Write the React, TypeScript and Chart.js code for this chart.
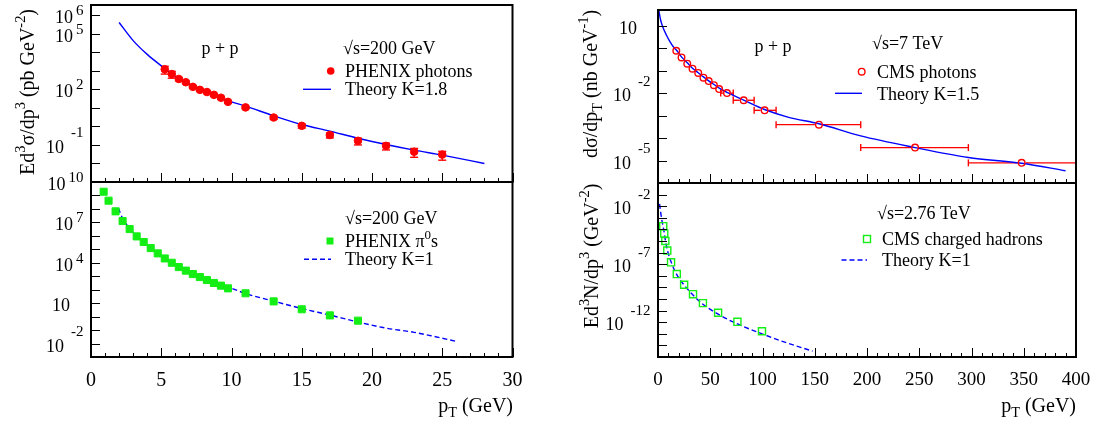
import { useEffect, useRef } from "react";
import { Chart, registerables } from "chart.js";

Chart.register(...registerables);

const W = 1097;
const H = 426;
const SERIF = '"Liberation Serif", "Times New Roman", "DejaVu Serif", serif';

// ---------------- data ----------------
// top-left: PHENIX direct photons, sqrt(s)=200 GeV
const phenixGammaPt = [5.25, 5.75, 6.25, 6.75, 7.25, 7.75, 8.25, 8.75, 9.25, 9.75, 11, 13, 15, 17, 19, 21, 23, 25];
const phenixGammaY = [1.2e3, 6.6e2, 3.6e2, 2.4e2, 1.35e2, 93, 71, 50, 35, 21, 10.5, 3.0, 1.07, 0.34, 0.166, 0.089, 0.043, 0.03];
const phenixGammaErr = [0.45, 0.4, 0.2, 0.15, 0.15, 0.15, 0.15, 0.15, 0.15, 0.15, 0.15, 0.2, 0.25, 0.3, 0.4, 0.4, 0.5, 0.5];
const gammaTheory200Pt = [2, 3, 4, 5, 6, 7, 8, 9, 10, 11, 13, 15, 17, 19, 21, 23, 25, 28];
const gammaTheory200Y = [4.0e5, 4.2e4, 7.6e3, 1.86e3, 480, 178, 81, 40, 21, 12.3, 3.7, 1.26, 0.55, 0.23, 0.105, 0.052, 0.028, 0.01];

// bottom-left: PHENIX pi0
const pi0Pt = [0.9, 1.25, 1.75, 2.25, 2.75, 3.25, 3.75, 4.25, 4.75, 5.25, 5.75, 6.25, 6.75, 7.25, 7.75, 8.25, 8.75, 9.25, 9.75, 11, 13, 15, 17, 19];
const pi0Y = [1.9e9, 4.1e8, 6.6e7, 1.26e7, 3.2e6, 9.1e5, 3.5e5, 1.23e5, 5.0e4, 2.1e4, 1.0e4, 4.8e3, 2.6e3, 1.45e3, 870, 525, 316, 200, 126, 54, 13.5, 3.5, 1.23, 0.5];
const pi0TheoryPt = [1.95, 2.25, 2.75, 3.25, 3.75, 4.25, 4.75, 5.25, 6, 7, 8, 9, 10, 11, 13, 15, 17, 19, 21, 23, 24.2, 26];
const pi0TheoryY = [1.15e8, 2.0e7, 3.5e6, 9.5e5, 3.3e5, 1.26e5, 5.2e4, 2.3e4, 7.1e3, 2.0e3, 710, 280, 126, 52, 14, 4.0, 1.3, 0.4, 0.14, 0.068, 0.038, 0.0145];

// top-right: CMS isolated photons, sqrt(s)=7 TeV
const cmsGammaPt = [17.5, 22.5, 28, 33, 38.5, 43.5, 48.5, 53.5, 58.5, 66, 82, 102, 154, 246, 348];
const cmsGammaY = [0.79, 0.4, 0.21, 0.126, 0.081, 0.05, 0.035, 0.023, 0.0155, 0.0102, 4.9e-3, 1.74e-3, 4.0e-4, 3.8e-5, 7.9e-6];
const cmsGammaPtLo = [15, 20, 25, 30, 35, 40, 45, 50, 55, 60, 72, 92, 113, 194, 297];
const cmsGammaPtHi = [20, 25, 30, 35, 40, 45, 50, 55, 60, 72, 92, 113, 194, 297, 400];
const gammaTheory7Pt = [0.5, 2.5, 4.5, 8, 11, 14.3, 17.6, 22.5, 28, 33, 38.5, 43.5, 48.5, 54, 59, 66, 82, 102, 125, 154, 194, 246, 297, 348, 390];
const gammaTheory7Y = [60, 18.6, 9.3, 4.0, 2.2, 1.26, 0.85, 0.42, 0.23, 0.132, 0.083, 0.054, 0.036, 0.024, 0.0166, 0.011, 5.0e-3, 1.9e-3, 8.5e-4, 4.4e-4, 1.26e-4, 3.8e-5, 1.38e-5, 7.6e-6, 3.5e-6];

// bottom-right: CMS charged hadrons, sqrt(s)=2.76 TeV
const cmsHadPt = [5, 6, 7, 8.9, 12.5, 18, 25, 33.5, 43, 57.5, 76, 99.5];
const cmsHadY = [1.9e-4, 4.5e-5, 1.0e-5, 1.5e-6, 1.45e-7, 1.4e-8, 1.7e-9, 2.6e-10, 4.4e-11, 6.5e-12, 1.07e-12, 1.66e-13];
const hadTheoryPt = [1.5, 2.5, 3.5, 5, 6, 7, 9, 12.5, 18, 25, 33.5, 43, 57.5, 76, 99.5, 122, 148];
const hadTheoryY = [0.016, 3.2e-3, 7.9e-4, 1.6e-4, 5.0e-5, 1.26e-5, 1.6e-6, 1.6e-7, 1.26e-8, 1.6e-9, 2.2e-10, 3.5e-11, 5.0e-12, 7.1e-13, 1.0e-13, 1.8e-14, 3.2e-15];

// axis tick labels
const leftXTicks = [0, 5, 10, 15, 20, 25, 30];
const rightXTicks = [0, 50, 100, 150, 200, 250, 300, 350, 400];
const tlDecadeLabels = [6, 5, 2, -1];
const blDecadeLabels = [10, 7, 4, 1, -2];
const trDecadeLabels = [1, -2, -5];
const brDecadeLabels = [-2, -7, -12];

// ---------------- helpers ----------------
type Seg = [string, number]; // 0 normal, 1 superscript, -1 subscript

const RED = "#ff0000";
const GREEN = "#14ee14";
const BLUE = "#0000ff";

function segFont(size: number, mode: number) {
  const s = mode === 0 ? size : size * 0.72;
  return `${s}px ${SERIF}`;
}

function drawRich(ctx: CanvasRenderingContext2D, segs: Seg[], x: number, y: number, size: number, align: string, rot = false) {
  ctx.save();
  ctx.translate(x, y);
  if (rot) ctx.rotate(-Math.PI / 2);
  let w = 0;
  for (const [t, m] of segs) {
    ctx.font = segFont(size, m);
    w += ctx.measureText(t).width;
  }
  let cx = align === "left" ? 0 : align === "center" ? -w / 2 : -w;
  const base = size * 0.33;
  ctx.textAlign = "left";
  ctx.textBaseline = "alphabetic";
  ctx.fillStyle = "#000";
  for (const [t, m] of segs) {
    ctx.font = segFont(size, m);
    const dy = m === 1 ? -size * 0.42 : m === -1 ? size * 0.25 : 0;
    ctx.fillText(t, cx, base + dy);
    cx += ctx.measureText(t).width;
  }
  ctx.restore();
}

function drawDecadeLabel(ctx: CanvasRenderingContext2D, d: number, L: number, py: number) {
  ctx.save();
  ctx.fillStyle = "#000";
  ctx.textBaseline = "alphabetic";
  if (d === 1) {
    ctx.font = `18px ${SERIF}`;
    ctx.textAlign = "right";
    ctx.fillText("10", L - 21, py + 7);
  } else {
    const exp = String(d);
    const neg = d < 0;
    ctx.font = `15px ${SERIF}`;
    const ew = ctx.measureText(exp).width;
    const expRight = L - 7.5;
    const raise = neg ? 13.5 : 6;
    ctx.textAlign = "left";
    ctx.fillText(exp, expRight - ew, py - raise + 5);
    ctx.font = `18px ${SERIF}`;
    ctx.textAlign = "right";
    ctx.fillText("10", expRight - ew - (neg ? 7 : 3), py + 7);
  }
  ctx.restore();
}

function line(ctx: CanvasRenderingContext2D, x1: number, y1: number, x2: number, y2: number) {
  ctx.beginPath();
  ctx.moveTo(x1, y1);
  ctx.lineTo(x2, y2);
  ctx.stroke();
}

function pts(xs: number[], ys: number[]) {
  return xs.map((x, i) => ({ x, y: ys[i] }));
}

interface Spec {
  key: string;
  area: { l: number; r: number; t: number; b: number };
  x: [number, number];
  y: [number, number];
  xMinor: number;
  xMajorEvery: number;
  decadeLabels: number[];
  xTicks: number[] | null;
  xTickSize: number;
  datasets: any[];
  under?: (ctx: CanvasRenderingContext2D, chart: any) => void;
  over: (ctx: CanvasRenderingContext2D, chart: any) => void;
}

const markerFilled = (style: string, color: string, r: number) => ({
  showLine: false,
  pointStyle: style,
  pointRadius: r,
  pointBackgroundColor: color,
  pointBorderColor: color,
  pointBorderWidth: 1,
});
const markerOpen = (style: string, color: string, r: number) => ({
  showLine: false,
  pointStyle: style,
  pointRadius: r,
  pointBackgroundColor: "rgba(0,0,0,0)",
  pointBorderColor: color,
  pointBorderWidth: 1.4,
});
const theoryLine = (dashed: boolean) => ({
  showLine: true,
  pointRadius: 0,
  borderColor: BLUE,
  borderWidth: 1.4,
  borderDash: dashed ? [5, 3] : [],
  cubicInterpolationMode: "monotone",
  fill: false,
});

const pp: Seg[] = [["p + p", 0]];

const specs: Spec[] = [
  {
    key: "tl",
    area: { l: 91, r: 512.5, t: 5, b: 182 },
    x: [0, 30],
    y: [1e-3, 3.5e6],
    xMinor: 1,
    xMajorEvery: 5,
    decadeLabels: tlDecadeLabels,
    xTicks: null,
    xTickSize: 20,
    datasets: [
      { data: pts(phenixGammaPt, phenixGammaY), ...markerFilled("circle", RED, 3.8) },
      { data: pts(gammaTheory200Pt, gammaTheory200Y), ...theoryLine(false) },
    ],
    under: (ctx, chart) => {
      const xs = chart.scales.x;
      const ys = chart.scales.y;
      ctx.save();
      ctx.strokeStyle = RED;
      ctx.lineWidth = 1.4;
      phenixGammaPt.forEach((pt, i) => {
        const v = phenixGammaY[i];
        const e = phenixGammaErr[i];
        const px = xs.getPixelForValue(pt);
        const y1 = ys.getPixelForValue(v * (1 - e));
        const y2 = ys.getPixelForValue(v * (1 + e));
        line(ctx, px, y1, px, y2);
        line(ctx, px - 4, y1, px + 4, y1);
        line(ctx, px - 4, y2, px + 4, y2);
      });
      ctx.restore();
    },
    over: (ctx) => {
      drawRich(ctx, pp, 220, 48, 18, "center");
      drawRich(ctx, [["\u221As=200 GeV", 0]], 343, 48, 18, "left");
      ctx.save();
      ctx.fillStyle = RED;
      ctx.beginPath();
      ctx.arc(330.7, 71, 3.8, 0, Math.PI * 2);
      ctx.fill();
      ctx.strokeStyle = BLUE;
      ctx.lineWidth = 1.4;
      line(ctx, 303, 89.3, 331, 89.3);
      ctx.restore();
      drawRich(ctx, [["PHENIX photons", 0]], 345, 71, 18, "left");
      drawRich(ctx, [["Theory K=1.8", 0]], 345, 89.5, 18, "left");
      drawRich(
        ctx,
        [["Ed", 0], ["3", 1], ["\u03C3/dp", 0], ["3", 1], [" (pb GeV", 0], ["-2", 1], [")", 0]],
        27,
        92,
        20,
        "center",
        true
      );
    },
  },
  {
    key: "bl",
    area: { l: 91, r: 512.5, t: 182, b: 357 },
    x: [0, 30],
    y: [1e-3, 1e10],
    xMinor: 1,
    xMajorEvery: 5,
    decadeLabels: blDecadeLabels,
    xTicks: leftXTicks,
    xTickSize: 20,
    datasets: [
      { data: pts(pi0Pt, pi0Y), ...markerFilled("rect", GREEN, 5) },
      { data: pts(pi0TheoryPt, pi0TheoryY), ...theoryLine(true) },
    ],
    over: (ctx) => {
      drawRich(ctx, [["\u221As=200 GeV", 0]], 345, 218, 18, "left");
      ctx.save();
      ctx.fillStyle = GREEN;
      ctx.fillRect(326.5, 237.5, 7, 7);
      ctx.strokeStyle = BLUE;
      ctx.lineWidth = 1.4;
      ctx.setLineDash([5, 3]);
      line(ctx, 304, 259.3, 331, 259.3);
      ctx.restore();
      drawRich(ctx, [["PHENIX \u03C0", 0], ["0", 1], ["s", 0]], 345, 241, 18, "left");
      drawRich(ctx, [["Theory K=1", 0]], 345, 259.5, 18, "left");
      drawRich(ctx, [["p", 0], ["T", -1], [" (GeV)", 0]], 513, 405, 20, "right");
    },
  },
  {
    key: "tr",
    area: { l: 658, r: 1076, t: 10, b: 183 },
    x: [0, 400],
    y: [1e-6, 52],
    xMinor: 10,
    xMajorEvery: 5,
    decadeLabels: trDecadeLabels,
    xTicks: null,
    xTickSize: 19,
    datasets: [
      { data: pts(cmsGammaPt, cmsGammaY), ...markerOpen("circle", RED, 3.3) },
      { data: pts(gammaTheory7Pt, gammaTheory7Y), ...theoryLine(false) },
    ],
    under: (ctx, chart) => {
      const xs = chart.scales.x;
      const ys = chart.scales.y;
      const a = chart.chartArea;
      ctx.save();
      ctx.beginPath();
      ctx.rect(a.left, a.top, a.right - a.left, a.bottom - a.top);
      ctx.clip();
      ctx.strokeStyle = RED;
      ctx.lineWidth = 1.4;
      cmsGammaPt.forEach((pt, i) => {
        const py = ys.getPixelForValue(cmsGammaY[i]);
        const pc = xs.getPixelForValue(pt);
        const p1 = xs.getPixelForValue(cmsGammaPtLo[i]);
        const p2 = xs.getPixelForValue(cmsGammaPtHi[i]);
        if (pc - 4 > p1) line(ctx, p1, py, pc - 4, py);
        if (pc + 4 < p2) line(ctx, pc + 4, py, p2, py);
        if (p2 - p1 > 9) {
          line(ctx, p1, py - 3.5, p1, py + 3.5);
          line(ctx, p2, py - 3.5, p2, py + 3.5);
        }
      });
      ctx.restore();
    },
    over: (ctx) => {
      drawRich(ctx, pp, 773, 46, 18, "center");
      drawRich(ctx, [["\u221As=7 TeV", 0]], 872, 43, 18, "left");
      ctx.save();
      ctx.strokeStyle = RED;
      ctx.lineWidth = 1.4;
      ctx.beginPath();
      ctx.arc(861.7, 71.7, 3.3, 0, Math.PI * 2);
      ctx.stroke();
      ctx.strokeStyle = BLUE;
      line(ctx, 835, 93.3, 862, 93.3);
      ctx.restore();
      drawRich(ctx, [["CMS photons", 0]], 877, 72, 18, "left");
      drawRich(ctx, [["Theory K=1.5", 0]], 877, 94, 18, "left");
      drawRich(
        ctx,
        [["d\u03C3/dp", 0], ["T", -1], [" (nb GeV", 0], ["-1", 1], [")", 0]],
        590,
        84,
        20,
        "center",
        true
      );
    },
  },
  {
    key: "br",
    area: { l: 658, r: 1076, t: 183, b: 357 },
    x: [0, 400],
    y: [1e-15, 1],
    xMinor: 10,
    xMajorEvery: 5,
    decadeLabels: brDecadeLabels,
    xTicks: rightXTicks,
    xTickSize: 19,
    datasets: [
      { data: pts(cmsHadPt, cmsHadY), ...markerOpen("rect", GREEN, 5) },
      { data: pts(hadTheoryPt, hadTheoryY), ...theoryLine(true) },
    ],
    over: (ctx) => {
      drawRich(ctx, [["\u221As=2.76 TeV", 0]], 877, 213, 18, "left");
      ctx.save();
      ctx.strokeStyle = GREEN;
      ctx.lineWidth = 1.4;
      ctx.strokeRect(863.5, 235.5, 7, 7);
      ctx.strokeStyle = BLUE;
      ctx.setLineDash([5, 3]);
      line(ctx, 841.5, 260, 867, 260);
      ctx.restore();
      drawRich(ctx, [["CMS charged hadrons", 0]], 882, 239, 18, "left");
      drawRich(ctx, [["Theory K=1", 0]], 882, 260.5, 18, "left");
      drawRich(ctx, [["p", 0], ["T", -1], [" (GeV)", 0]], 1076, 405, 20, "right");
      drawRich(
        ctx,
        [["Ed", 0], ["3", 1], ["N/dp", 0], ["3", 1], [" (GeV", 0], ["-2", 1], [")", 0]],
        591,
        256,
        20,
        "center",
        true
      );
    },
  },
];

function makePlugin(spec: Spec) {
  return {
    id: "deco_" + spec.key,
    beforeDatasetsDraw(chart: any) {
      if (spec.under) spec.under(chart.ctx, chart);
    },
    afterDraw(chart: any) {
      const ctx: CanvasRenderingContext2D = chart.ctx;
      const { left, right, top, bottom } = chart.chartArea;
      const xs = chart.scales.x;
      const ys = chart.scales.y;
      ctx.save();
      ctx.strokeStyle = "#000";
      ctx.lineWidth = 1;
      // x ticks (inward, bottom edge)
      const n = Math.round((spec.x[1] - spec.x[0]) / spec.xMinor);
      for (let i = 0; i <= n; i++) {
        const v = spec.x[0] + i * spec.xMinor;
        const px = Math.round(xs.getPixelForValue(v)) + 0.5;
        const len = i % spec.xMajorEvery === 0 ? 9 : 4;
        line(ctx, px, bottom, px, bottom - len);
      }
      // y ticks at each decade (inward, left edge)
      const d0 = Math.ceil(Math.log10(spec.y[0]) - 1e-9);
      const d1 = Math.floor(Math.log10(spec.y[1]) + 1e-9);
      for (let d = d0; d <= d1; d++) {
        const py = Math.round(ys.getPixelForValue(Math.pow(10, d))) + 0.5;
        line(ctx, left, py, left + 9, py);
      }
      // frame
      ctx.lineWidth = 2;
      ctx.strokeRect(left, top, right - left, bottom - top);
      ctx.restore();
      // decade labels
      for (const d of spec.decadeLabels) {
        drawDecadeLabel(ctx, d, left, ys.getPixelForValue(Math.pow(10, d)) + 1);
      }
      // x tick labels
      if (spec.xTicks) {
        for (const v of spec.xTicks) {
          drawRich(ctx, [[String(v), 0]], xs.getPixelForValue(v), 379, spec.xTickSize, "center");
        }
      }
      spec.over(ctx, chart);
    },
  };
}

function Panel({ spec }: { spec: Spec }) {
  const ref = useRef<HTMLCanvasElement>(null);
  useEffect(() => {
    const canvas = ref.current;
    if (!canvas) return;
    const chart = new Chart(canvas, {
      type: "scatter",
      data: { datasets: spec.datasets },
      options: {
        responsive: false,
        animation: false,
        devicePixelRatio: 1,
        events: [],
        layout: {
          padding: {
            left: spec.area.l,
            right: W - spec.area.r,
            top: spec.area.t,
            bottom: H - spec.area.b,
          },
        },
        plugins: { legend: { display: false }, tooltip: { enabled: false } },
        scales: {
          x: { type: "linear", min: spec.x[0], max: spec.x[1], display: false },
          y: { type: "logarithmic", min: spec.y[0], max: spec.y[1], display: false },
        },
      } as any,
      plugins: [makePlugin(spec)],
    });
    return () => chart.destroy();
  }, [spec]);
  return (
    <canvas
      ref={ref}
      width={W}
      height={H}
      style={{ position: "absolute", left: 0, top: 0, width: W, height: H }}
    />
  );
}

export default function App() {
  return (
    <div style={{ position: "absolute", left: 0, top: 0, width: W, height: H, background: "#fff" }}>
      {specs.map((s) => (
        <Panel key={s.key} spec={s} />
      ))}
    </div>
  );
}
